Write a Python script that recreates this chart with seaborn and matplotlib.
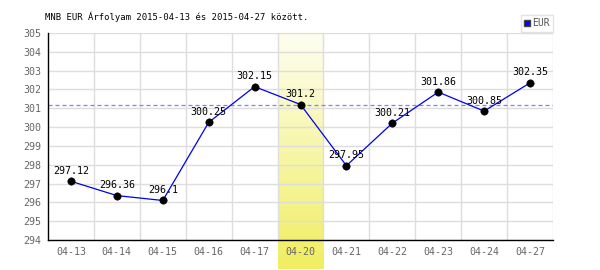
import numpy as np
import pandas as pd
import matplotlib
matplotlib.use("Agg")
import matplotlib.pyplot as plt
import seaborn as sns
from matplotlib.lines import Line2D
from matplotlib.colors import LinearSegmentedColormap

dates = ["04-13", "04-14", "04-15", "04-16", "04-17", "04-20",
         "04-21", "04-22", "04-23", "04-24", "04-27"]
rates = [297.12, 296.36, 296.1, 300.25, 302.15, 301.2,
         297.95, 300.21, 301.86, 300.85, 302.35]
rate_labels = ["297.12", "296.36", "296.1", "300.25", "302.15", "301.2",
               "297.95", "300.21", "301.86", "300.85", "302.35"]
highlight = "04-20"
reference_rate = 301.2
y_ticks = list(range(294, 306))
title = "MNB EUR Árfolyam 2015-04-13 és 2015-04-27 között."
series_name = "EUR"

sns.set_style("white")
plt.rcParams["font.family"] = ["DejaVu Sans Mono", "DejaVu Sans"]

df = pd.DataFrame({"pos": np.arange(len(dates)), "date": dates, "rate": rates})

fig = plt.figure(figsize=(6, 2.7), dpi=100)
ax = fig.add_axes([48/600, 30/270, 505/600, 207/270])

# highlighted day band with gradient
hi = dates.index(highlight)
cmap = LinearSegmentedColormap.from_list("band", ["#f0ee60", "#fefef2"])
grad = np.linspace(0, 1, 256).reshape(-1, 1)
ax.imshow(grad, cmap=cmap, origin="lower", aspect="auto",
          extent=(hi - 0.5, hi + 0.5, 292.45, 305), clip_on=False, zorder=0)

for v in y_ticks:
    ax.axhline(v, color="#dddddd", lw=1, zorder=1)
for i in range(len(dates)):
    ax.axvline(i + 0.5, color="#dddddd", lw=1, zorder=1)

ax.axhline(reference_rate, color="#7f7fff", lw=0.9, ls=(0, (3.2, 2.4)), zorder=2)

sns.lineplot(data=df, x="pos", y="rate", ax=ax, color="#0000ee", lw=0.9,
             zorder=3, legend=False)
sns.scatterplot(data=df, x="pos", y="rate", ax=ax, color="black", s=28,
                edgecolor="black", zorder=4, legend=False)

for x, y, lab in zip(df["pos"], df["rate"], rate_labels):
    ax.annotate(lab, (x, y), xytext=(0, 4), textcoords="offset points",
                ha="center", va="bottom", fontsize=7.2, color="black", zorder=5)

ax.set_xlim(-0.5, len(dates) - 0.5)
ax.set_ylim(294, 305)
ax.set_xticks(df["pos"])
ax.set_xticklabels(dates)
ax.set_yticks(y_ticks)
ax.set_yticklabels([str(v) for v in y_ticks])
ax.tick_params(axis="both", labelsize=7.2, labelcolor="#666666", length=0, pad=5)
ax.set_xlabel("")
ax.set_ylabel("")
for s in ["top", "right"]:
    ax.spines[s].set_visible(False)
for s in ["left", "bottom"]:
    ax.spines[s].set_color("black")
    ax.spines[s].set_linewidth(1)

fig.text(45/600, 1 - 17/270, title, fontsize=6.4, color="black",
         ha="left", va="center")

handle = Line2D([], [], marker="s", color="none", markerfacecolor="#0000ff",
                markeredgecolor="#444444", markersize=5)
leg = fig.legend([handle], [series_name], loc="upper right",
                 bbox_to_anchor=(553/600, 1 - 15/270), fontsize=7,
                 frameon=True, fancybox=False, handlelength=0.6,
                 handletextpad=0.2, borderpad=0.35, borderaxespad=0)
leg.get_frame().set_edgecolor("#dddddd")
leg.get_frame().set_linewidth(1)
for t in leg.get_texts():
    t.set_color("#555555")

fig.savefig("out.png", dpi=100)
